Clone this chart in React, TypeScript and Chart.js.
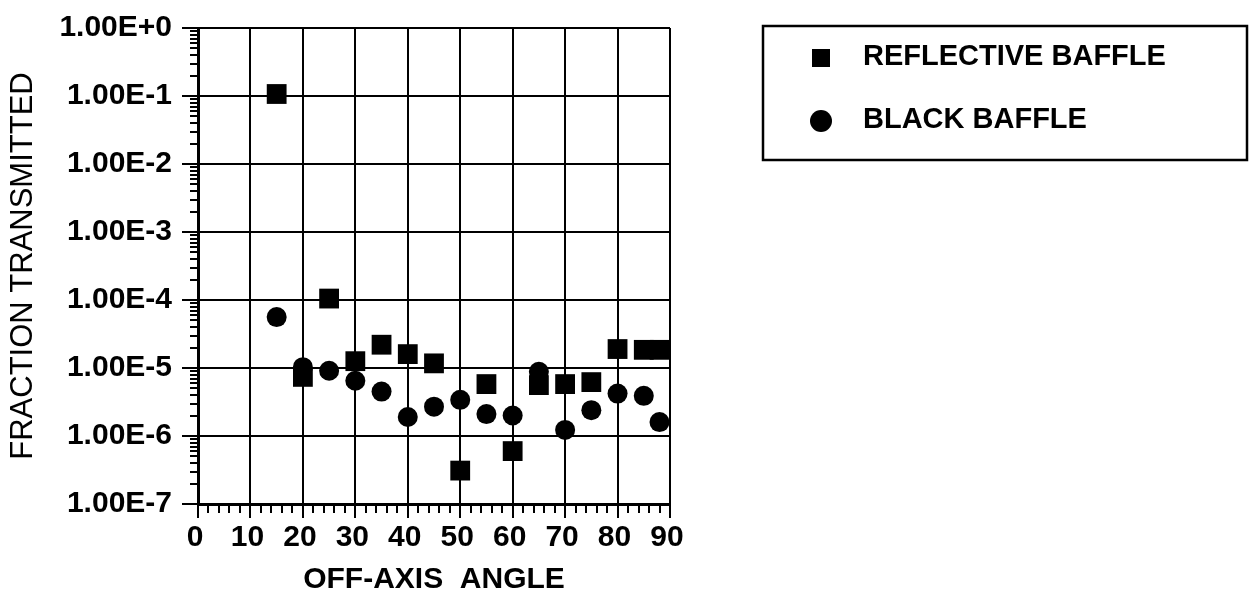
import React, { useEffect, useRef } from 'react';
import { Chart, registerables } from 'chart.js';

Chart.register(...registerables);

// ---- data ----
const seriesLabels = ['REFLECTIVE BAFFLE', 'BLACK BAFFLE'];
const angles = [15, 20, 25, 30, 35, 40, 45, 50, 55, 60, 65, 70, 75, 80, 85, 88];
const reflectiveValues = [
  1.07e-1, 7.4e-6, 1.05e-4, 1.26e-5, 2.2e-5, 1.6e-5, 1.17e-5, 3.1e-7,
  5.8e-6, 6.0e-7, 5.6e-6, 5.8e-6, 6.2e-6, 1.9e-5, 1.85e-5, 1.85e-5,
];
const blackValues = [
  5.6e-5, 1.03e-5, 9.1e-6, 6.5e-6, 4.5e-6, 1.9e-6, 2.7e-6, 3.4e-6,
  2.1e-6, 2.0e-6, 8.8e-6, 1.23e-6, 2.4e-6, 4.2e-6, 3.9e-6, 1.6e-6,
];
const xTickValues = [0, 10, 20, 30, 40, 50, 60, 70, 80, 90];
const xMinorValues = [2, 4, 6, 8, 12, 14, 16, 18, 22, 24, 26, 28, 32, 34, 36, 38, 42, 44, 46, 48, 52, 54, 56, 58, 62, 64, 66, 68, 72, 74, 76, 78, 82, 84, 86, 88];
const yTickExponents = [0, -1, -2, -3, -4, -5, -6, -7];
const yTickLabels = ['1.00E+0', '1.00E-1', '1.00E-2', '1.00E-3', '1.00E-4', '1.00E-5', '1.00E-6', '1.00E-7'];
const yMinorMultipliers = [2, 3, 4, 5, 6, 7, 8, 9];
const xTitle = 'OFF-AXIS  ANGLE';
const yTitle = 'FRACTION TRANSMITTED';

const FONT = "'Liberation Sans', Arial, Helvetica, sans-serif";

const minorTicksPlugin = {
  id: 'minorTicks',
  afterDraw(chart: any) {
    const { ctx, chartArea } = chart;
    const xs = chart.scales.x;
    const ys = chart.scales.y;
    ctx.save();
    ctx.strokeStyle = '#000';
    ctx.lineWidth = 2;
    ctx.beginPath();
    for (const e of yTickExponents) {
      if (e === 0) continue;
      for (const k of yMinorMultipliers) {
        const py = Math.round(ys.getPixelForValue(k * Math.pow(10, e)));
        ctx.moveTo(chartArea.left - 8, py);
        ctx.lineTo(chartArea.left, py);
      }
    }
    for (const v of xMinorValues) {
      const px = Math.round(xs.getPixelForValue(v));
      ctx.moveTo(px, chartArea.bottom);
      ctx.lineTo(px, chartArea.bottom + 9);
    }
    ctx.stroke();
    ctx.restore();
  },
};

const legendPlugin = {
  id: 'boxLegend',
  afterDraw(chart: any) {
    const { ctx } = chart;
    const ds = chart.data.datasets;
    ctx.save();
    ctx.strokeStyle = '#000';
    ctx.lineWidth = 2.5;
    ctx.strokeRect(763, 26, 484, 134);
    ctx.fillStyle = '#000';
    ctx.font = `bold 29px ${FONT}`;
    ctx.textBaseline = 'middle';
    ctx.textAlign = 'left';
    // row 1: square marker
    ctx.fillRect(812, 49, 18, 18);
    ctx.fillText(ds[0].label, 863, 57);
    // row 2: circle marker
    ctx.beginPath();
    ctx.arc(821, 121, 11, 0, Math.PI * 2);
    ctx.fill();
    ctx.fillText(ds[1].label, 863, 120);
    ctx.restore();
  },
};

export default function App() {
  const ref = useRef<HTMLCanvasElement>(null);

  useEffect(() => {
    const canvas = ref.current;
    if (!canvas) return;
    const tickFont = { family: FONT, size: 30, weight: 'bold' as const };
    const chart = new Chart(canvas, {
      type: 'scatter',
      data: {
        datasets: [
          {
            label: seriesLabels[0],
            data: angles.map((a, i) => ({ x: a, y: reflectiveValues[i] })),
            pointStyle: 'rect',
            pointRadius: 14,
            backgroundColor: '#000',
            borderColor: '#000',
            borderWidth: 0,
          },
          {
            label: seriesLabels[1],
            data: angles.map((a, i) => ({ x: a, y: blackValues[i] })),
            pointStyle: 'circle',
            pointRadius: 10,
            backgroundColor: '#000',
            borderColor: '#000',
            borderWidth: 0,
          },
        ],
      },
      options: {
        responsive: false,
        animation: false,
        events: [],
        layout: { padding: { top: 28, right: 579, left: 0, bottom: 0 } },
        plugins: {
          legend: { display: false },
          tooltip: { enabled: false },
        },
        scales: {
          x: {
            type: 'linear',
            min: 0,
            max: 90,
            afterFit: (s: any) => {
              s.height = 99;
            },
            afterBuildTicks: (s: any) => {
              s.ticks = xTickValues.map((v) => ({ value: v }));
            },
            ticks: {
              callback: (v: any) => String(v),
              font: tickFont,
              color: '#000',
              padding: 2,
              labelOffset: -3,
              maxRotation: 0,
              autoSkip: false,
            },
            grid: {
              color: '#000',
              lineWidth: 2,
              tickLength: 14,
              tickWidth: 2,
              tickColor: '#000',
            },
            border: { color: '#000', width: 3 },
            title: {
              display: true,
              text: xTitle,
              color: '#000',
              font: { family: FONT, size: 30, weight: 'bold' },
              padding: { top: 0, bottom: 5 },
            },
          },
          y: {
            type: 'logarithmic',
            min: 1e-7,
            max: 1,
            afterFit: (s: any) => {
              s.width = 198;
            },
            afterBuildTicks: (s: any) => {
              s.ticks = yTickExponents.map((e) => ({ value: Math.pow(10, e) }));
            },
            ticks: {
              callback: (v: any) => {
                const e = Math.round(Math.log10(Number(v)));
                const i = yTickExponents.indexOf(e);
                return i >= 0 ? yTickLabels[i] : '';
              },
              font: tickFont,
              color: '#000',
              padding: 10,
              autoSkip: false,
            },
            grid: {
              color: '#000',
              lineWidth: 2,
              tickLength: 16,
              tickWidth: 2,
              tickColor: '#000',
            },
            border: { color: '#000', width: 3 },
            title: {
              display: true,
              text: yTitle,
              color: '#000',
              font: { family: FONT, size: 31, weight: 'normal' },
              padding: { top: 5, bottom: 0 },
            },
          },
        },
      },
      plugins: [minorTicksPlugin, legendPlugin],
    } as any);
    return () => chart.destroy();
  }, []);

  return (
    <div style={{ position: 'fixed', left: 0, top: 0, width: 1249, height: 603, background: '#fff' }}>
      <canvas ref={ref} width={1249} height={603} style={{ display: 'block' }} />
    </div>
  );
}
